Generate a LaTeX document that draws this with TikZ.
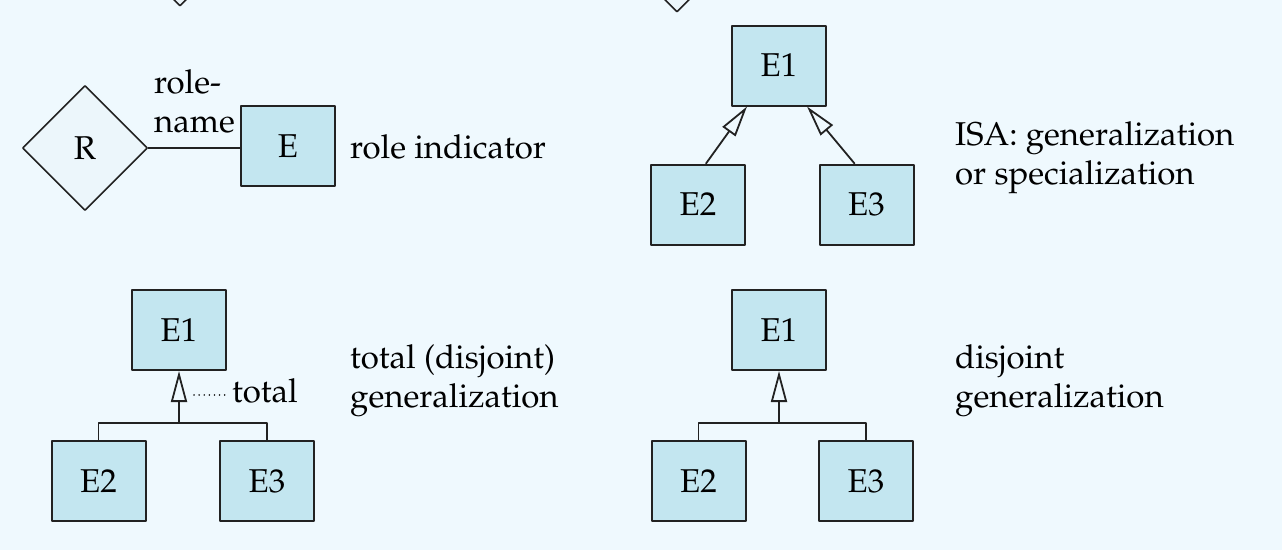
\documentclass[tikz,border=0pt]{standalone}
\usepackage[T1]{fontenc}
\usepackage{mathpazo}
\usetikzlibrary{shapes.geometric,arrows.meta,calc}
\definecolor{bgblue}{RGB}{239,249,254}
\definecolor{entblue}{RGB}{195,230,240}
\definecolor{relblue}{RGB}{236,246,251}
\definecolor{linegray}{RGB}{34,34,34}
\tikzset{
	entity/.style={draw=linegray,fill=entblue,line width=2pt,minimum width=94pt,minimum height=80pt,inner sep=0pt},
	rel/.style={diamond,aspect=1,draw=linegray,fill=relblue,line width=1.6pt,minimum width=125pt,minimum height=125pt,inner sep=0pt},
	lbl/.style={anchor=base west,inner sep=0pt,align=left},
	isa/.style={-{Triangle[open,length=31pt,width=16pt,line width=1.8pt]}}
}
\begin{document}
\begin{tikzpicture}[x=1pt,y=-1pt, font=\fontsize{33}{39}\selectfont, line join=round, line cap=round, draw=linegray]
	\def\W{1282} \def\H{550}
	\useasboundingbox (0,0) rectangle (\W,\H);
	\fill[bgblue] (0,0) rectangle (\W,\H);
	\clip (0,0) rectangle (\W,\H);
	% cut-off diamonds at the top
	\node[rel] (top1) at (180,-56.5) {};
	\node[rel] (top2) at (677,-50.5) {};
	% role indicator
	\node[rel] (R) at (85,148) {R};
	\node[entity] (E) at (288,146) {E};
	\draw[line width=1.8pt] (R.east) -- (R.east -| E.west);
	\node[lbl] (rname) at (154,132) {role-\\name};
	\node[lbl] (rind) at (350,158) {role indicator};
	% ISA
	\node[entity] (isa1) at (779,65.5) {E1};
	\node[entity] (isa2) at (698,204.5) {E2};
	\node[entity] (isa3) at (866.5,204.5) {E3};
	\draw[isa,line width=1.8pt] ([xshift=8pt]isa2.north) -- ([xshift=-32pt]isa1.south);
	\draw[isa,line width=1.8pt] ([xshift=-12pt]isa3.north) -- ([xshift=28pt]isa1.south);
	\node[lbl] (isatxt) at (955,184) {ISA: generalization\\or specialization};
	% total generalization
	\node[entity] (tot1) at (179,330) {E1};
	\node[entity] (tot2) at (98.5,481) {E2};
	\node[entity] (tot3) at (267,481) {E3};
	\coordinate (jt) at (179,423);
	\draw[line width=1.8pt] (tot2.north) |- (jt) -| (tot3.north);
	\draw[isa,line width=1.8pt] (jt) -- (tot1.south);
	\node[lbl] (totlbl) at (232,402) {total};
	\coordinate (dt) at (194,395);
	\draw[line width=1.6pt,dash pattern=on 0.1pt off 5pt] (dt) -- ([xshift=-4pt]dt -| totlbl.west);
	\node[lbl] (tottxt) at (350,407) {total (disjoint)\\generalization};
	% disjoint generalization
	\node[entity] (dis1) at (779,330) {E1};
	\node[entity] (dis2) at (698.5,481) {E2};
	\node[entity] (dis3) at (866,481) {E3};
	\coordinate (jd) at (779,423);
	\draw[line width=1.8pt] (dis2.north) |- (jd) -| (dis3.north);
	\draw[isa,line width=1.8pt] (jd) -- (dis1.south);
	\node[lbl] (distxt) at (955,407) {disjoint\\generalization};
\end{tikzpicture}
\end{document}
